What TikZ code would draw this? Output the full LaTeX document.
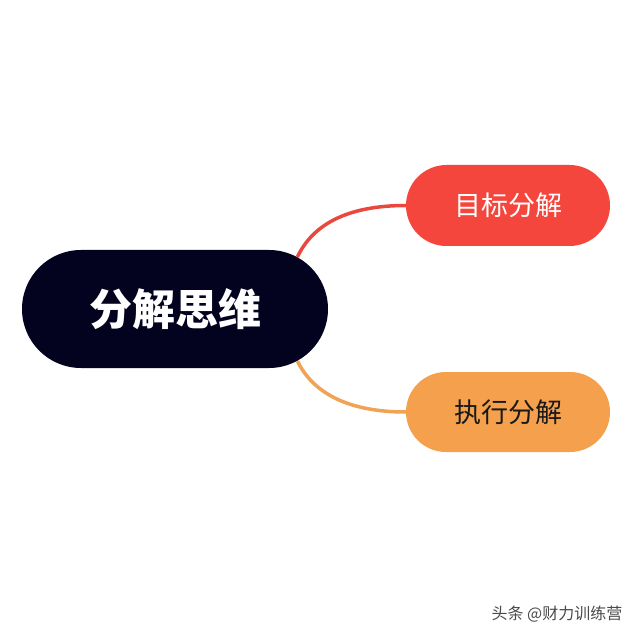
\documentclass[tikz,border=0pt]{standalone}
\usepackage{fontspec}
\newfontfamily\cjk{Noto Sans CJK SC}
\usetikzlibrary{shapes.misc}
\definecolor{navy}{HTML}{03031F}
\definecolor{redfill}{HTML}{F4463D}
\definecolor{orangefill}{HTML}{F5A04C}
\definecolor{redline}{HTML}{E9483F}
\definecolor{orangeline}{HTML}{EFA353}
\definecolor{wmgray}{HTML}{4A4A4A}
\tikzset{
  pill/.style={rounded rectangle, inner sep=0pt, draw=none},
  conn/.style={line width=3.5pt},
}
\begin{document}
\begin{tikzpicture}[x=1pt,y=-1pt]
\useasboundingbox (0,0) rectangle (640,639);
\fill[white] (0,0) rectangle (640,639);
\node[pill, fill=navy, minimum width=306pt, minimum height=118pt,
      font=\cjk\bfseries\fontsize{43}{50}\selectfont, text=white] (c) at (175,309) {分解思维};
\node[pill, fill=redfill, minimum width=204pt, minimum height=81pt,
      font=\cjk\fontsize{27}{32}\selectfont, text=white] (t) at (508,205.5) {目标分解};
\node[pill, fill=orangefill, minimum width=204pt, minimum height=80pt,
      font=\cjk\fontsize{27}{32}\selectfont, text=black!90] (b) at (508,412) {执行分解};
\draw[conn, redline] (t.west) .. controls (345,205.5) and (312,226) .. (c.23);
\draw[conn, orangeline] (b.west) .. controls (345,412) and (312,391) .. (c.-23);
\node[font=\cjk\fontsize{16}{19}\selectfont, text=wmgray, inner sep=0pt] (wm) at (557,614) {头条 @财力训练营};
\end{tikzpicture}
\end{document}
